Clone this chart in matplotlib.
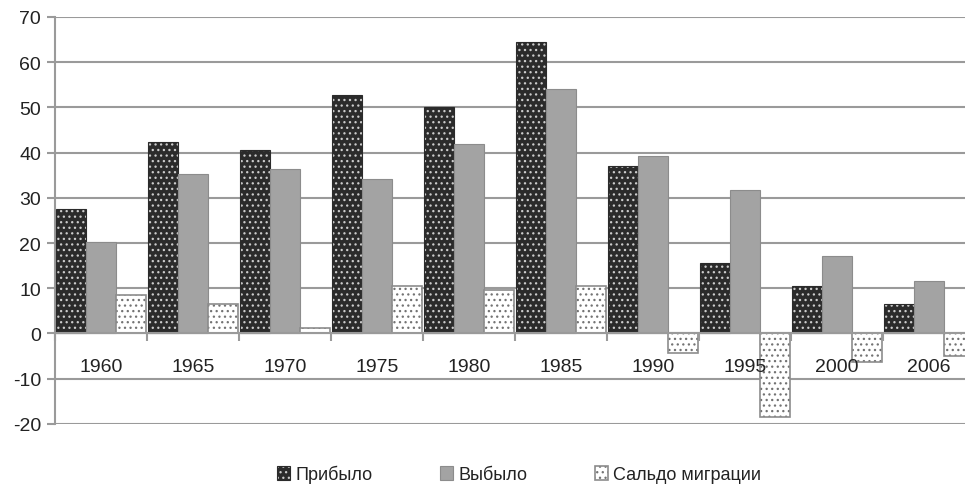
import numpy as np
import matplotlib.pyplot as plt

# values
years = ['1960', '1965', '1970', '1975', '1980', '1985', '1990', '1995', '2000', '2006']
arrived = [27.5, 42.4, 40.5, 52.8, 50.1, 64.5, 37.0, 15.5, 10.6, 6.4]
departed = [20.2, 35.2, 36.3, 34.1, 41.9, 54.1, 39.2, 31.8, 17.2, 11.5]
balance = [8.6, 6.4, 1.1, 10.6, 9.5, 10.4, -4.4, -18.4, -6.4, -5.1]

plt.rcParams['font.family'] = ['Liberation Sans', 'DejaVu Sans']
plt.rcParams['axes.unicode_minus'] = False
plt.rcParams['hatch.linewidth'] = 0.9

fig = plt.figure(figsize=(9.65, 4.85), dpi=100)
ax = fig.add_axes([0.057, 0.124, 0.953, 0.839])

x = np.arange(len(years))
w = 0.326
start = x - 0.49
b1 = ax.bar(start, arrived, w, align='edge', color='#2b2b2b', edgecolor='#2b2b2b',
            hatch='...', linewidth=0.8, label='Прибыло', zorder=3)
b2 = ax.bar(start + w, departed, w, align='edge', color='#a3a3a3', edgecolor='#8c8c8c',
            linewidth=0.8, label='Выбыло', zorder=3)
b3 = ax.bar(start + 2 * w, balance, w, align='edge', color='white', edgecolor='#8c8c8c',
            hatch='...', linewidth=1.2, label='Сальдо миграции', zorder=3)
for p in b1:
    p._hatch_color = (0.8, 0.8, 0.8, 1)
for p in b3:
    p._hatch_color = (0.45, 0.45, 0.45, 1)

ax.set_xlim(-0.5, 9.5)
ax.set_ylim(-20, 70)
ax.set_yticks(range(-20, 71, 10))
ax.yaxis.grid(True, color='#9a9a9a', linewidth=1.5, zorder=0)
ax.set_axisbelow(True)

for s in ['top', 'right']:
    ax.spines[s].set_visible(False)
ax.spines['left'].set_color('#9a9a9a')
ax.spines['left'].set_linewidth(1.5)
ax.spines['bottom'].set_position(('data', 0))
ax.spines['bottom'].set_color('#9a9a9a')
ax.spines['bottom'].set_linewidth(1.5)
ax.spines['bottom'].set_zorder(4)

ax.set_xticks(x)
ax.set_xticklabels(years)
ax.set_xticks(np.arange(-0.5, 10, 1), minor=True)
ax.tick_params(axis='x', which='major', length=0, pad=18, labelsize=14, labelcolor='#222222')
ax.tick_params(axis='x', which='minor', length=6, color='#9a9a9a', width=1.5)
ax.tick_params(axis='y', length=6, color='#9a9a9a', width=1.5, labelsize=14, labelcolor='#222222', pad=4)
ax.xaxis.set_zorder(5)  # year labels sit on top of the negative bars

leg = fig.legend(handles=[b1, b2, b3], loc='lower center', bbox_to_anchor=(0.538, -0.032), ncol=3,
                 frameon=False, fontsize=13, handlelength=0.75, handleheight=0.75,
                 handletextpad=0.3, columnspacing=3.7)
for t in leg.get_texts():
    t.set_color('#222222')

fig.savefig('out.png', dpi=100)
